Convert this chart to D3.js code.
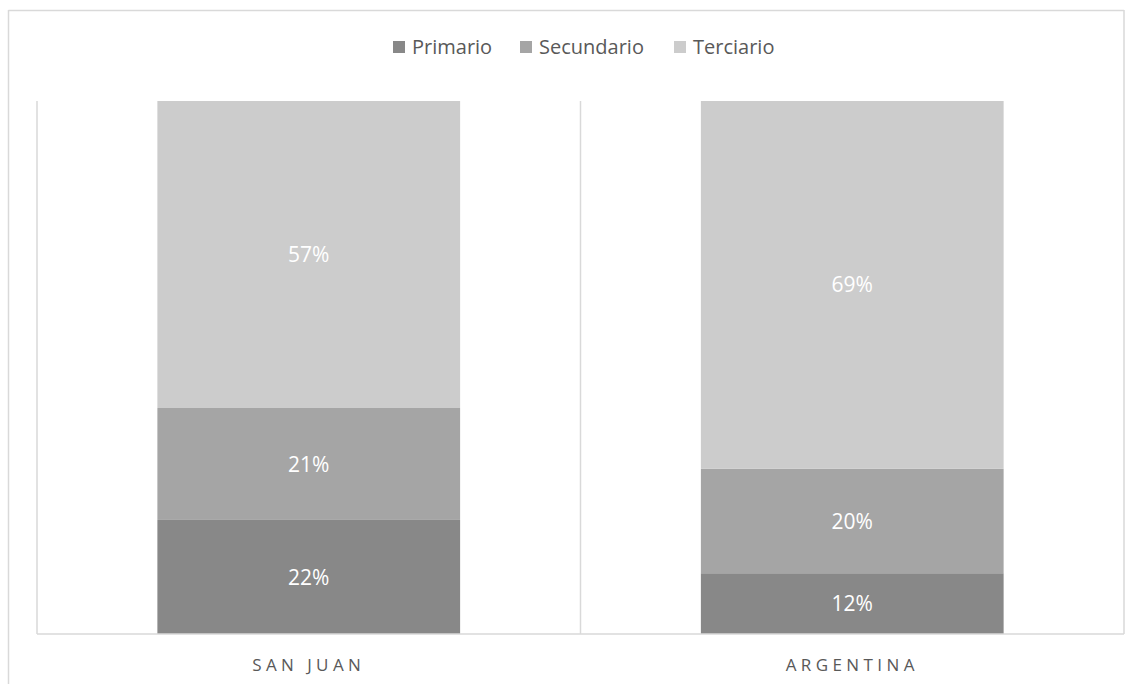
<!DOCTYPE html>
<html>
<head>
<meta charset="utf-8">
<script src="https://cdn.jsdelivr.net/npm/d3@7"></script>
<style>
  body { margin: 0; background: #fff; }
  svg { display: block; font-family: "Open Sans", sans-serif; }
</style>
</head>
<body>
<svg id="chart" width="1139" height="684"></svg>
<script>
// data (shares of 100%)
const categories = ["SAN JUAN", "ARGENTINA"];
const seriesNames = ["Primario", "Secundario", "Terciario"];
const primario = [21.4, 11.4];
const secundario = [21.0, 19.6];
const terciario = [57.6, 69.0];
const labelPrimario = ["22%", "12%"];
const labelSecundario = ["21%", "20%"];
const labelTerciario = ["57%", "69%"];

const colors = ["#888888", "#a5a5a5", "#cccccc"];

const rows = categories.map((c, i) => ({
    cat: c,
    Primario: primario[i],
    Secundario: secundario[i],
    Terciario: terciario[i],
}));
const labels = {
    Primario: labelPrimario,
    Secundario: labelSecundario,
    Terciario: labelTerciario,
};

const svg = d3.select("#chart");
const plot = {left: 37, right: 1124, top: 101, bottom: 634};

const x = d3.scaleBand()
    .domain(categories)
    .range([plot.left, plot.right])
    .padding(0);
const barW = x.bandwidth() * 0.557;

const y = d3.scaleLinear()
    .domain([0, 100])
    .range([plot.bottom, plot.top]);

const color = d3.scaleOrdinal()
    .domain(seriesNames)
    .range(colors);

// outer frame (cropped at the bottom like the source)
const frame = svg.append("g")
    .attr("fill", "none")
    .attr("stroke", "#d9d9d9")
    .attr("stroke-width", 1.5);
frame.append("line").attr("x1", 8.5).attr("x2", 8.5).attr("y1", 10).attr("y2", 684);
frame.append("line").attr("x1", 8.5).attr("x2", plot.right).attr("y1", 10.5).attr("y2", 10.5);
frame.append("line").attr("x1", plot.right).attr("x2", plot.right).attr("y1", 10).attr("y2", plot.bottom);

// vertical separators between categories
const seps = [plot.left, ...categories.slice(1).map(c => x(c))];
svg.append("g")
    .selectAll("line")
    .data(seps)
    .enter()
    .append("line")
    .attr("x1", d => d).attr("x2", d => d)
    .attr("y1", plot.top).attr("y2", plot.bottom)
    .attr("stroke", "#d9d9d9")
    .attr("stroke-width", 1.5);

const stacked = d3.stack().keys(seriesNames)(rows);

const layer = svg.append("g")
    .selectAll("g")
    .data(stacked)
    .enter()
    .append("g")
    .attr("fill", d => color(d.key));

layer.selectAll("rect")
    .data(d => d)
    .enter()
    .append("rect")
    .attr("x", d => x(d.data.cat) + (x.bandwidth() - barW) / 2)
    .attr("width", barW)
    .attr("y", d => y(d[1]))
    .attr("height", d => y(d[0]) - y(d[1]));

// data labels
svg.append("g")
    .selectAll("g")
    .data(stacked)
    .enter()
    .append("g")
    .selectAll("text")
    .data(s => s.map((d, i) => ({d, text: labels[s.key][i]})))
    .enter()
    .append("text")
    .attr("x", p => x(p.d.data.cat) + x.bandwidth() / 2)
    .attr("y", p => (y(p.d[0]) + y(p.d[1])) / 2)
    .attr("dy", "0.36em")
    .attr("text-anchor", "middle")
    .attr("fill", "#ffffff")
    .style("font-size", "21px")
    .text(p => p.text);

// x axis line
svg.append("line")
    .attr("x1", plot.left).attr("x2", plot.right)
    .attr("y1", plot.bottom).attr("y2", plot.bottom)
    .attr("stroke", "#d9d9d9")
    .attr("stroke-width", 1.5);

// category labels
svg.append("g")
    .selectAll("text")
    .data(categories)
    .enter()
    .append("text")
    .attr("x", d => x(d) + x.bandwidth() / 2)
    .attr("y", 671)
    .attr("text-anchor", "middle")
    .attr("fill", "#595959")
    .style("font-size", "17px")
    .style("letter-spacing", "4.4px")
    .text(d => d);

// legend
const legendX = [412, 539, 693];
const legend = svg.append("g")
    .selectAll("g")
    .data(seriesNames)
    .enter()
    .append("g")
    .attr("transform", (d, i) => "translate(" + legendX[i] + ",47)");
legend.append("rect")
    .attr("x", -19).attr("y", -6)
    .attr("width", 12).attr("height", 12)
    .attr("fill", d => color(d));
legend.append("text")
    .attr("x", 0)
    .attr("dy", "0.36em")
    .attr("fill", "#595959")
    .style("font-size", "20px")
    .text(d => d);
</script>
</body>
</html>
